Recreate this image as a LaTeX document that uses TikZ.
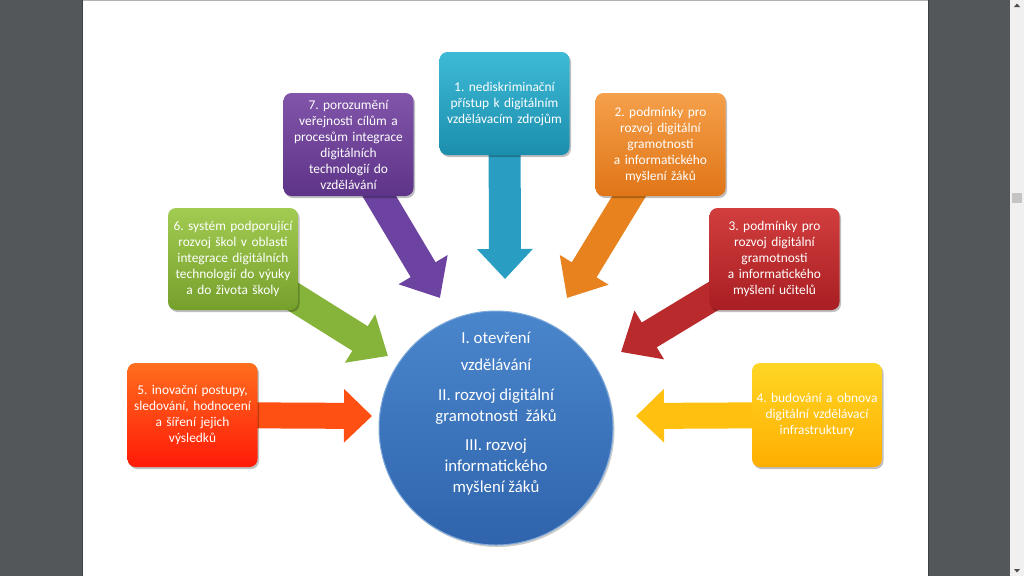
\documentclass[tikz,border=0pt]{standalone}
\usepackage{fontspec}
\setmainfont{Carlito}
\frenchspacing
\usetikzlibrary{arrows.meta,shadows}
\pgfdeclarelayer{back}
\pgfdeclarelayer{bg}
\pgfsetlayers{back,bg,main}
\definecolor{pagegray}{HTML}{53575A}
\definecolor{edgegray}{HTML}{3E4144}
\definecolor{scrollbg}{HTML}{F0F0F0}
\definecolor{thumb}{HTML}{C4C4C4}
\definecolor{tealT}{HTML}{3DBAD6}\definecolor{tealB}{HTML}{1C8EAD}\definecolor{tealA}{HTML}{2A9EC2}
\definecolor{purT}{HTML}{8155AA}\definecolor{purB}{HTML}{5E3488}\definecolor{purA}{HTML}{6C43A0}
\definecolor{oraT}{HTML}{F5A04A}\definecolor{oraB}{HTML}{E07518}\definecolor{oraA}{HTML}{E8821E}
\definecolor{greT}{HTML}{A2CB52}\definecolor{greB}{HTML}{76A02C}\definecolor{greA}{HTML}{86B33A}
\definecolor{redT}{HTML}{D23E3E}\definecolor{redB}{HTML}{A81E22}\definecolor{redA}{HTML}{B92A2C}
\definecolor{roT}{HTML}{FF6E1E}\definecolor{roB}{HTML}{FF1A08}\definecolor{roA}{HTML}{FF5014}
\definecolor{yelT}{HTML}{FFD624}\definecolor{yelB}{HTML}{FFAE00}\definecolor{yelA}{HTML}{FFC010}
\definecolor{bluT}{HTML}{4A86CC}\definecolor{bluB}{HTML}{2F64AC}
\tikzset{
  box/.style={rounded corners=8pt, minimum width=130pt, minimum height=103pt,
    text width=126pt, align=center, text=white, inner sep=0pt,
    font=\fontsize{13.4}{16}\selectfont,
    drop shadow={shadow xshift=1.5pt, shadow yshift=-2pt, opacity=0.25, fill=black}},
  arr/.style={line width=29pt, draw=#1, -{Triangle[width=55pt,length=33pt]}},
  harr/.style={line width=26pt, draw=#1, -{Triangle[width=52pt,length=28pt]}},
  varr/.style={line width=32pt, draw=#1, -{Triangle[width=54pt,length=30pt]}},
}
\begin{document}
\begin{tikzpicture}[x=1pt,y=-1pt]
\useasboundingbox (0,0) rectangle (1024,576);
\begin{pgfonlayer}{back}
% page background
\fill[pagegray] (0,0) rectangle (1024,576);
\fill[white] (83,0) rectangle (928,576);
\draw[edgegray, line width=1.5pt] (82.5,0) -- (82.5,576);
\draw[edgegray, line width=1.5pt] (928.5,0) -- (928.5,576);
\draw[gray!60, line width=1pt] (83,0.5) -- (928,0.5);
% scrollbar
\fill[scrollbg] (1010,0) rectangle (1024,576);
\fill[thumb] (1012,193) rectangle (1022,203);
\fill[black!70] (1014,7) -- (1020,7) -- (1017,3.5) -- cycle;
\fill[black!70] (1014,569) -- (1020,569) -- (1017,572.5) -- cycle;
\end{pgfonlayer}

% boxes
\node[box, top color=tealT, bottom color=tealB] (b1) at (504.5,103.5)
  {1. nediskriminační\\přístup k digitálním\\vzdělávacím zdrojům};
\node[box, top color=purT, bottom color=purB] (b7) at (348.5,144.5)
  {7. porozumění\\veřejnosti cílům a\\procesům integrace\\digitálních\\technologií do\\vzdělávání};
\node[box, top color=oraT, bottom color=oraB] (b2) at (660.5,144.5)
  {2. podmínky pro\\rozvoj digitální\\gramotnosti\\a informatického\\myšlení žáků};
\node[box, top color=greT, bottom color=greB, minimum height=102pt] (b6) at (233,259)
  {6. systém podporující\\rozvoj škol v oblasti\\integrace digitálních\\technologií do výuky\\a do života školy};
\node[box, top color=redT, bottom color=redB, minimum height=102pt] (b3) at (774.5,259)
  {3. podmínky pro\\rozvoj digitální\\gramotnosti\\a informatického\\myšlení učitelů};
\node[box, top color=roT, bottom color=roB, minimum height=104pt] (b5) at (192.5,415)
  {5. inovační postupy,\\sledování, hodnocení\\a šíření jejich\\výsledků};
\node[box, top color=yelT, bottom color=yelB, minimum height=104pt] (b4) at (817,415)
  {4. budování a obnova\\digitální vzdělávací\\infrastruktury};

% centre circle
\node[circle, minimum size=234pt, inner sep=0pt, top color=bluT, bottom color=bluB,
  draw=bluT!70!white, line width=1pt,
  drop shadow={shadow xshift=1.5pt, shadow yshift=-2pt, opacity=0.2, fill=black}] (c) at (496,428) {};
\node[text=white, align=center, font=\fontsize{16.8}{21}\selectfont] (ct) at (496,414)
  {I. otevření\\[6pt]vzdělávání\\[9pt]II. rozvoj digitální\\gramotnosti\ \ žáků\\[8pt]III. rozvoj\\informatického\\myšlení žáků};

% arrow tips
\coordinate (t1) at (505,279);
\coordinate (t7) at (440,298);
\coordinate (t2) at (567,298);
\coordinate (t6) at (388,356);
\coordinate (t3) at (621,352);
\coordinate (t5) at (372,416);
\coordinate (t4) at (636,416);

\begin{pgfonlayer}{bg}
\draw[varr=tealA] (b1.center) -- (t1);
\draw[arr=purA] (b7.center) -- (t7);
\draw[arr=oraA] (b2.center) -- (t2);
\draw[arr=greA] (b6.center) -- (t6);
\draw[arr=redA] (b3.center) -- (t3);
\draw[harr=roA] (b5.center) -- (t5);
\draw[harr=yelA] (b4.center) -- (t4);
\end{pgfonlayer}
\end{tikzpicture}
\end{document}
